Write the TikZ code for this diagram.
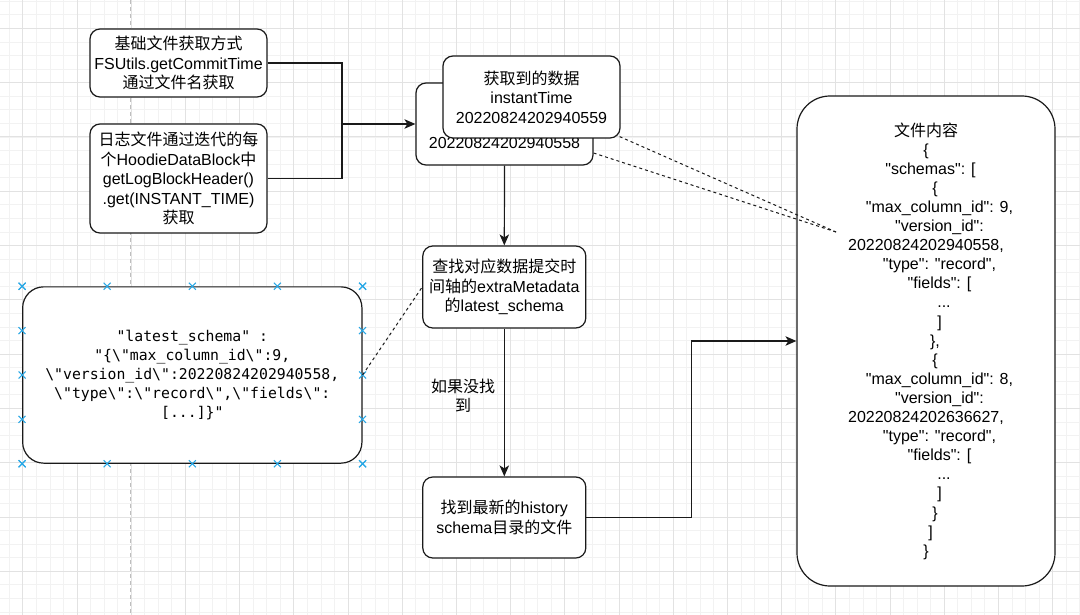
\documentclass[tikz,border=0pt]{standalone}
\usepackage{fontspec}
\newfontfamily\mainf{Liberation Sans}
\newfontfamily\cjk{Noto Sans CJK SC}
\newfontfamily\monof{DejaVu Sans Mono}
\usetikzlibrary{arrows.meta,calc,shapes.misc}
\definecolor{gridminor}{RGB}{242,242,242}
\definecolor{gridmajor}{RGB}{226,226,226}
\definecolor{pagebreak}{RGB}{190,190,190}
\definecolor{selblue}{RGB}{41,168,230}
\definecolor{ink}{RGB}{26,26,26}
\newcommand\myind[1]{\hspace*{#1\dimexpr 9pt\relax}}
\begin{document}
\begin{tikzpicture}[x=1pt,y=-1pt,
  box/.style={draw=ink, line width=1.2pt, rounded corners=10pt, fill=white, align=center, inner sep=0pt, font=\mainf\fontsize{16}{19.4}\selectfont, text=black},
  conn/.style={draw=ink, line width=1.2pt},
  arr/.style={conn, -{Stealth[length=11pt,width=9.5pt,inset=3pt]}},
  dashline/.style={draw=ink, line width=1pt, dash pattern=on 3pt off 3pt},
  lbl/.style={align=center, inner sep=0pt, font=\cjk\fontsize{16}{19.4}\selectfont},
  selx/.style={cross out, draw=selblue, line width=1pt, minimum size=6pt, inner sep=0pt}
]
\useasboundingbox (0,0) rectangle (1080,615);
\fill[white] (0,0) rectangle (1080,615);
% grid
\foreach \i in {0,...,79} \draw[gridminor, line width=0.6pt] ({9.15+13.55*\i},0) -- ++(0,615);
\foreach \i in {0,...,45} \draw[gridminor, line width=0.6pt] (0,{1.16+13.57*\i}) -- ++(1080,0);
\foreach \i in {0,...,19} \draw[gridmajor, line width=0.8pt] ({22.7+54.2*\i},0) -- ++(0,615);
\foreach \i in {0,...,10} \draw[gridmajor, line width=0.8pt] (0,{28.3+54.3*\i}) -- ++(1080,0);
\draw[pagebreak, dash pattern=on 4pt off 3pt, line width=0.8pt] (130.7,0) -- (130.7,615);

% nodes
\node[box, minimum width=177pt, minimum height=68pt] (A) at (178.5,63)
  {{\cjk 基础文件获取方式}\\FSUtils.getCommitTime\\{\cjk 通过文件名获取}};
\node[box, minimum width=177pt, minimum height=109pt] (B) at (178.5,178.5)
  {{\cjk 日志文件通过迭代的每}\\{\cjk 个}HoodieDataBlock{\cjk 中}\\getLogBlockHeader()\\.get(INSTANT\_TIME)\\{\cjk 获取}};
\node[box, minimum width=177pt, minimum height=82pt] (C) at (504.5,124)
  {\phantom{0}\\\phantom{0}\\20220824202940558};
\node[box, minimum width=177pt, minimum height=82pt] (D) at (531.5,97)
  {{\cjk 获取到的数据}\\instantTime\\20220824202940559};
\node[box, minimum width=163pt, minimum height=82pt] (E) at (504.3,287)
  {{\cjk 查找对应数据提交时}\\{\cjk 间轴的}extraMetadata\\{\cjk 的}latest\_schema};
\node[box, minimum width=163pt, minimum height=81pt] (F) at (504.3,517.5)
  {{\cjk 找到最新的}history\\schema{\cjk 目录的文件}};
\node[box, rounded corners=33pt, minimum width=258pt, minimum height=490pt, font=\mainf\fontsize{16}{19.1}\selectfont] (G) at (926,341)
  {{\cjk 文件内容}\\
   \{\\
   \myind{1}"schemas": [\\
   \myind{2}\{\\
   \myind{3}"max\_column\_id": 9,\\
   \myind{3}"version\_id":\\
   20220824202940558,\\
   \myind{3}"type": "record",\\
   \myind{3}"fields": [\\
   \myind{4}...\\
   \myind{3}]\\
   \myind{2}\},\\
   \myind{2}\{\\
   \myind{3}"max\_column\_id": 8,\\
   \myind{3}"version\_id":\\
   20220824202636627,\\
   \myind{3}"type": "record",\\
   \myind{3}"fields": [\\
   \myind{4}...\\
   \myind{3}]\\
   \myind{2}\}\\
   \myind{1}]\\
   \}};
\node[box, rounded corners=21pt, minimum width=339.3pt, minimum height=176.3pt, font=\monof\fontsize{14.8}{19}\selectfont] (H) at (192.3,375)
  {"latest\_schema" :\\
   "\{\textbackslash"max\_column\_id\textbackslash":9,\\
   \textbackslash"version\_id\textbackslash":20220824202940558,\\
   \textbackslash"type\textbackslash":\textbackslash"record\textbackslash",\textbackslash"fields\textbackslash":\\
   {}[...]\}"};
\node[lbl] (L) at (463,396) {如果没找\\到};

% selection markers of H
\foreach \t in {0,0.25,0.5,0.75,1} {
  \node[selx] at ($(H.north west)!\t!(H.north east)$) {};
  \node[selx] at ($(H.south west)!\t!(H.south east)$) {};
  \node[selx] at ($(H.north west)!\t!(H.south west)$) {};
  \node[selx] at ($(H.north east)!\t!(H.south east)$) {};
}

% connectors
\coordinate (jn) at (342,124);
\coordinate (bend) at (691.7,341);
\coordinate (tgt) at (836,232);
\draw[conn] (A.east) -| (jn);
\draw[conn] (B.east) -| (jn);
\draw[arr] (jn) -- (C.west);
\draw[arr] (C.south) -- (E.north);
\draw[arr] (E.south) -- (F.north);
\draw[arr] (F.east) -| (bend) -- (G.west);
\draw[dashline] (H.east) -- (E.west);
\draw[dashline] ([xshift=-1pt,yshift=2pt]D.south east) -- (tgt);
\draw[dashline] ([yshift=-29pt]C.east) -- (tgt);
\end{tikzpicture}
\end{document}
